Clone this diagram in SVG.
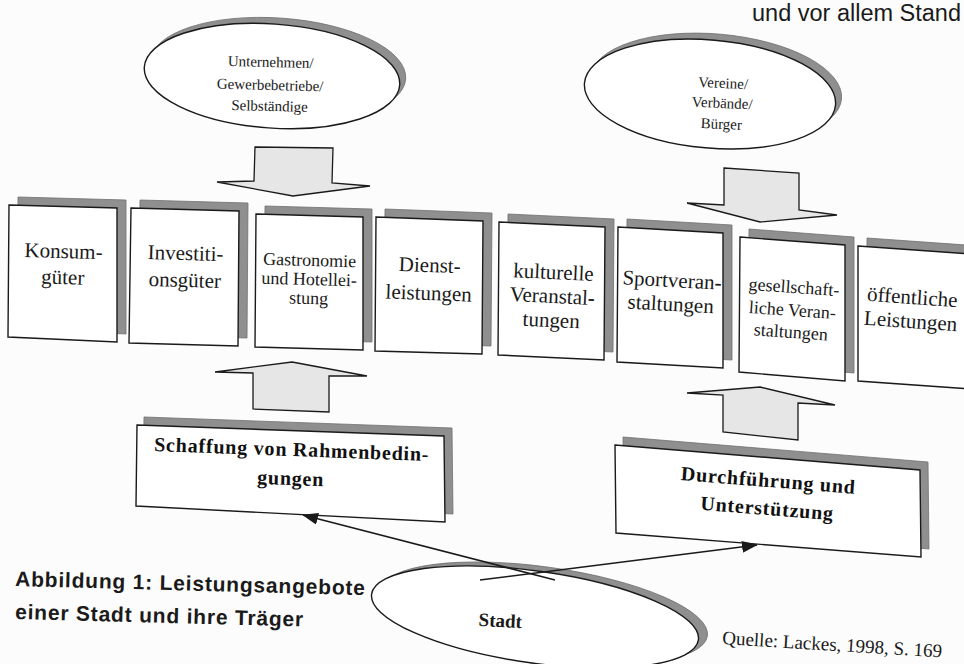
<svg xmlns="http://www.w3.org/2000/svg" width="964" height="664" viewBox="0 0 964 664">
<defs>
<marker id="ah" markerWidth="16" markerHeight="12" refX="15" refY="6" orient="auto" markerUnits="userSpaceOnUse"><path d="M0,0 L16,6 L0,12 z" fill="#1a1a1a"/></marker>
<style>
.sh{fill:#8f8f8f;stroke:#707070;stroke-width:0.8}
.fr{fill:#fff;stroke:#1a1a1a;stroke-width:1.4}
.bt{font-family:"Liberation Serif","Times New Roman",serif;font-size:21px;fill:#1a1a1a;text-anchor:middle}
.bs{font-size:18px}
.et{font-family:"Liberation Serif","Times New Roman",serif;font-size:15px;fill:#1a1a1a;text-anchor:middle}
.bb{font-family:"Liberation Serif","Times New Roman",serif;font-size:20px;font-weight:bold;letter-spacing:0.8px;fill:#111;text-anchor:middle}
.ar{fill:#e6e6e6;stroke:#1a1a1a;stroke-width:1.3}
.cap{font-family:"Liberation Sans",Arial,sans-serif;font-weight:bold;font-size:21px;letter-spacing:0.8px;fill:#1a1a1a}
.top{font-family:"Liberation Sans",Arial,sans-serif;font-size:23.5px;fill:#1a1a1a}
.src{font-family:"Liberation Serif","Times New Roman",serif;font-size:19px;fill:#1a1a1a}
.con{stroke:#1a1a1a;stroke-width:1.5;fill:none}
</style>
</defs>
<rect width="964" height="664" fill="#fcfcfc"/>
<text class="top" x="752" y="21">und vor allem Stand</text>

<g id="unternehmen">
<ellipse cx="278" cy="70" rx="128" ry="52" transform="rotate(4 278 70)" class="sh"/>
<ellipse cx="272" cy="76" rx="128" ry="52" transform="rotate(4 272 76)" class="fr"/>
<text class="et" transform="rotate(1.5 270 90)"><tspan x="270" y="67">Unternehmen/</tspan><tspan x="270" y="90">Gewerbebetriebe/</tspan><tspan x="270" y="111">Selbständige</tspan></text>
</g>

<g id="vereine">
<ellipse cx="716" cy="88" rx="126" ry="54" transform="rotate(5 716 88)" class="sh"/>
<ellipse cx="710" cy="94" rx="126" ry="54" transform="rotate(5 710 94)" class="fr"/>
<text class="et" transform="rotate(2.5 722 108)"><tspan x="722" y="88">Vereine/</tspan><tspan x="722" y="108">Verbände/</tspan><tspan x="722" y="129">Bürger</tspan></text>
</g>

<g id="konsum">
<polygon class="sh" points="18,197 126,200 126,334 17,329"/>
<polygon class="fr" points="9,205 117,208 117,342 8,337"/>
<text class="bt" transform="rotate(1.6 63 270)"><tspan x="63" y="258">Konsum-</tspan><tspan x="63" y="284">güter</tspan></text>
</g>
<g id="investition">
<polygon class="sh" points="140,200 248,203 247,338 138,335"/>
<polygon class="fr" points="131,208 239,211 238,346 129,343"/>
<text class="bt" transform="rotate(1.6 185 273)"><tspan x="185" y="260">Investiti-</tspan><tspan x="185" y="287">onsgüter</tspan></text>
</g>
<g id="gastronomie">
<polygon class="sh" points="265,206 372,209 372,342 264,339"/>
<polygon class="fr" points="256,214 363,217 363,350 255,347"/>
<text class="bt bs" transform="rotate(1.6 309 285)"><tspan x="309" y="266">Gastronomie</tspan><tspan x="309" y="285">und Hotellei-</tspan><tspan x="309" y="304">stung</tspan></text>
</g>
<g id="dienst">
<polygon class="sh" points="385,209 492,213 491,346 384,343"/>
<polygon class="fr" points="376,217 483,221 482,354 375,351"/>
<text class="bt" transform="rotate(2.1 429 286)"><tspan x="429" y="272">Dienst-</tspan><tspan x="429" y="300">leistungen</tspan></text>
</g>
<g id="kultur">
<polygon class="sh" points="508,214 614,219 613,352 507,347"/>
<polygon class="fr" points="499,222 605,227 604,360 498,355"/>
<text class="bt" transform="rotate(2.7 552 303)"><tspan x="552" y="279">kulturelle</tspan><tspan x="552" y="303">Veranstal-</tspan><tspan x="552" y="327">tungen</tspan></text>
</g>
<g id="sport">
<polygon class="sh" points="627,219 732,225 732,360 626,354"/>
<polygon class="fr" points="618,227 723,233 723,368 617,362"/>
<text class="bt" transform="rotate(3.2 671 299)"><tspan x="671" y="287">Sportveran-</tspan><tspan x="671" y="311">staltungen</tspan></text>
</g>
<g id="gesellschaft">
<polygon class="sh" points="749,229 854,237 854,373 748,364"/>
<polygon class="fr" points="740,237 845,245 845,381 739,372"/>
<text class="bt bs" transform="rotate(4 792 316)"><tspan x="792" y="293">gesellschaft-</tspan><tspan x="792" y="316">liche Veran-</tspan><tspan x="792" y="338">staltungen</tspan></text>
</g>
<g id="oeffentlich">
<polygon class="sh" points="867,238 980,246 980,381 866,373"/>
<polygon class="fr" points="858,246 972,254 972,389 858,381"/>
<text class="bt" transform="rotate(4 911 316)"><tspan x="911" y="304">öffentliche</tspan><tspan x="911" y="328">Leistungen</tspan></text>
</g>

<g id="rahmen">
<polygon class="sh" points="144,417 452,428 453,514 143,498"/>
<polygon class="fr" points="137,425 444,436 445,522 136,506"/>
<text class="bb" transform="rotate(2.1 291 470)"><tspan x="291" y="456">Schaffung von Rahmenbedin-</tspan><tspan x="291" y="485">gungen</tspan></text>
</g>
<g id="durchfuehrung">
<polygon class="sh" points="623,437 928,462 929,549 624,525"/>
<polygon class="fr" points="615,445 920,470 921,557 616,533"/>
<text class="bb" transform="rotate(4.5 768 498)"><tspan x="767" y="487">Durchführung und</tspan><tspan x="768" y="515">Unterstützung</tspan></text>
</g>

<g id="stadt">
<ellipse cx="544" cy="613" rx="165" ry="46" transform="rotate(8 544 613)" class="sh"/>
<ellipse cx="535" cy="617" rx="165" ry="46" transform="rotate(8 535 617)" class="fr"/>
<text x="500" y="627" transform="rotate(3 500 627)" font-family="Liberation Serif, Times New Roman, serif" font-size="19" font-weight="bold" fill="#1a1a1a" text-anchor="middle">Stadt</text>
</g>

<g id="connectors">
<polygon class="ar" points="255,147 333,148 332,183 370,186 293,196 217,182 254,181"/>
<polygon class="ar" points="724,168 799,173 799,210 837,215 760,222 687,203 724,205"/>
<polygon class="ar" points="292,362 367,376 329,376 329,412 253,409 253,373 215,372"/>
<polygon class="ar" points="760,387 835,405 798,403 798,440 723,432 723,395 687,393"/>
<line class="con" x1="555" y1="580" x2="303" y2="515" marker-end="url(#ah)"/>
<line class="con" x1="480" y1="580" x2="757" y2="545" marker-end="url(#ah)"/>
</g>

<text class="cap" x="15" y="586" transform="rotate(1.5 15 586)">Abbildung 1: Leistungsangebote</text>
<text class="cap" x="15" y="619" transform="rotate(1.5 15 619)">einer Stadt und ihre Träger</text>
<text class="src" x="722" y="644" transform="rotate(3.5 722 644)">Quelle: Lackes, 1998, S. 169</text>
</svg>
